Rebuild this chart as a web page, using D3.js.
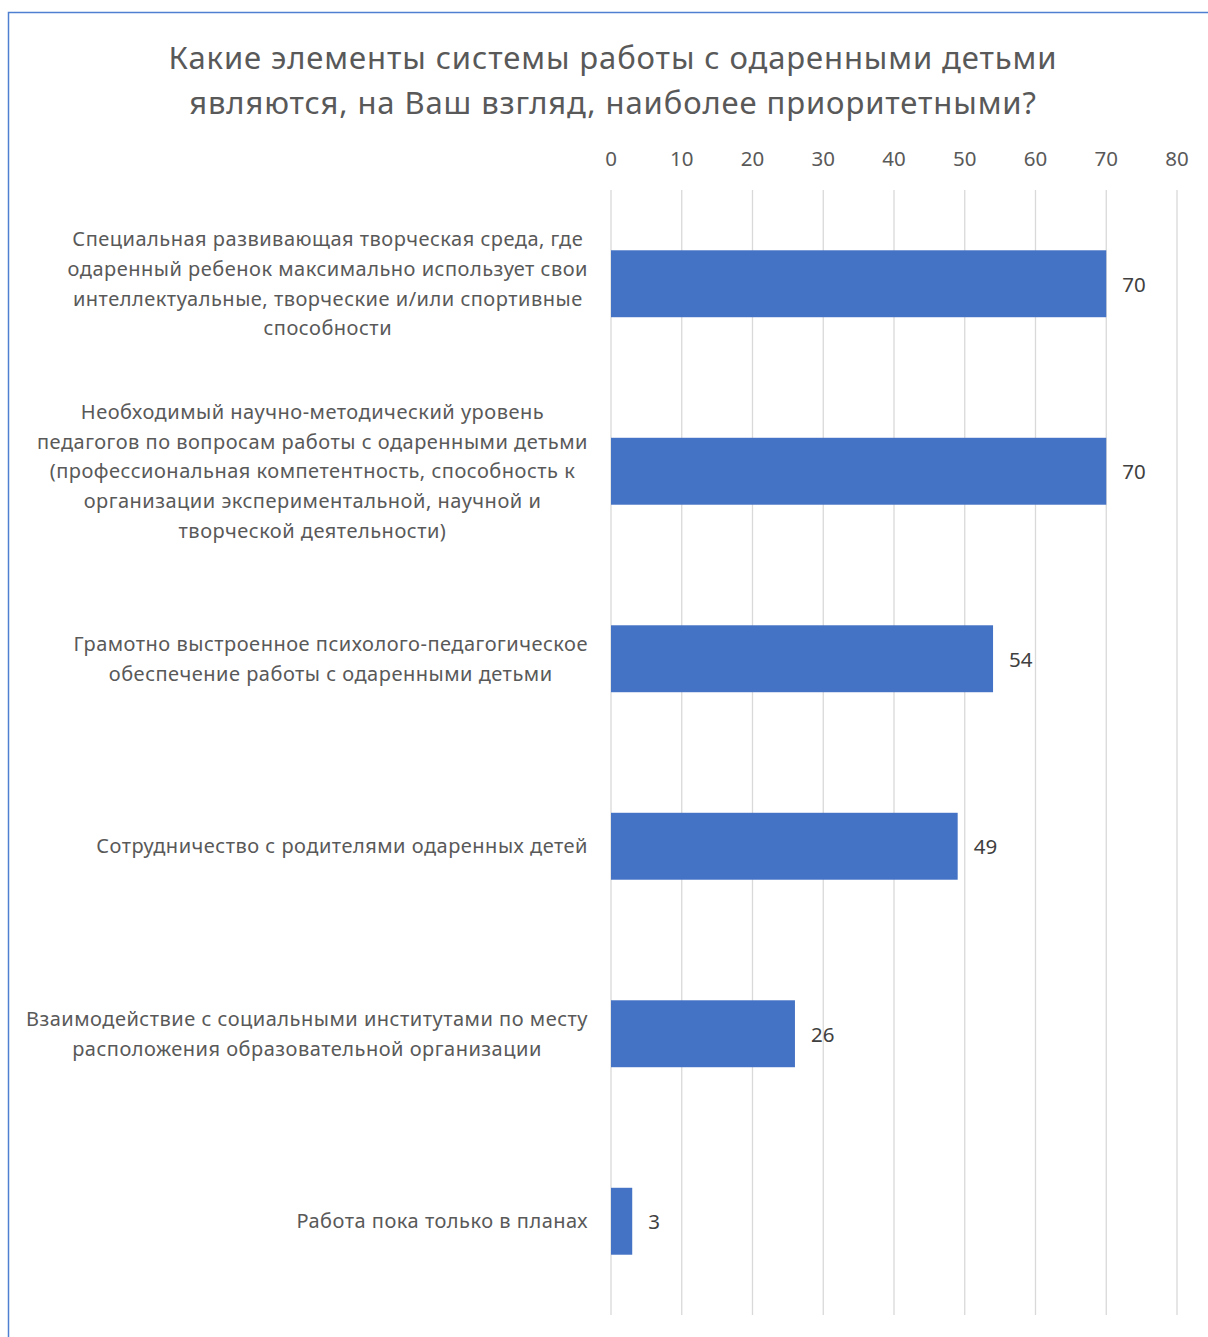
<!DOCTYPE html>
<html>
<head>
<meta charset="utf-8">
<script src="https://cdn.jsdelivr.net/npm/d3@7"></script>
<style>
  body { margin: 0; background: #fff; }
  svg text { font-family: "Noto Sans", "Open Sans", sans-serif; }
</style>
</head>
<body>
<svg id="chart" width="1208" height="1337"></svg>
<script>
// chart data
var titleLines = ["Какие элементы системы работы с одаренными детьми",
                  "являются, на Ваш взгляд, наиболее приоритетными?"];

var categories = [
  ["Специальная развивающая творческая среда, где",
   "одаренный ребенок максимально использует свои",
   "интеллектуальные, творческие и/или спортивные",
   "способности"],
  ["Необходимый научно-методический уровень",
   "педагогов по вопросам работы с одаренными детьми",
   "(профессиональная компетентность, способность к",
   "организации экспериментальной, научной и",
   "творческой деятельности)"],
  ["Грамотно выстроенное психолого-педагогическое",
   "обеспечение работы с одаренными детьми"],
  ["Сотрудничество с родителями одаренных детей"],
  ["Взаимодействие с социальными институтами по месту",
   "расположения образовательной организации"],
  ["Работа пока только в планах"]
];
var values = [70, 70, 54, 49, 26, 3];
var ticks = [0, 10, 20, 30, 40, 50, 60, 70, 80];

var svg = d3.select("#chart");
var textColor = "#595959";

// frame, only left/top visible in the picture
svg.append("rect")
   .attr("x", 8.5).attr("y", 12.5)
   .attr("width", 1400).attr("height", 1400)
   .attr("fill", "none")
   .attr("stroke", "#4f7fd0")
   .attr("stroke-width", 1.5);

// title
svg.selectAll(".title")
   .data(titleLines)
   .enter()
   .append("text")
   .attr("class", "title")
   .attr("x", 613)
   .attr("y", function(d, i){ return 69 + i * 45; })
   .attr("text-anchor", "middle")
   .attr("font-size", 31)
   .attr("letter-spacing", 0.9)
   .attr("fill", textColor)
   .text(function(d){ return d; });

var x = d3.scaleLinear().domain([0, 80]).range([611, 1177]);

var idx = d3.range(categories.length);
var y = d3.scaleBand()
          .domain(idx)
          .range([190, 1315])
          .paddingInner(0.643)
          .paddingOuter(0.643 / 2);

// gridlines
svg.selectAll(".grid")
   .data(ticks)
   .enter()
   .append("line")
   .attr("x1", function(d){ return x(d); })
   .attr("x2", function(d){ return x(d); })
   .attr("y1", 190)
   .attr("y2", 1315)
   .attr("stroke", "#d9d9d9")
   .attr("stroke-width", 1.3);

// top axis labels
svg.selectAll(".tick")
   .data(ticks)
   .enter()
   .append("text")
   .attr("x", function(d){ return x(d); })
   .attr("y", 166)
   .attr("text-anchor", "middle")
   .attr("font-size", 20.5)
   .attr("fill", textColor)
   .text(function(d){ return d; });

// bars
svg.selectAll(".bar")
   .data(values)
   .enter()
   .append("rect")
   .attr("x", x(0))
   .attr("y", function(d, i){ return y(i); })
   .attr("width", function(d){ return x(d) - x(0); })
   .attr("height", y.bandwidth())
   .attr("fill", "#4472c4");

// value labels
svg.selectAll(".val")
   .data(values)
   .enter()
   .append("text")
   .attr("x", function(d){ return x(d) + 16; })
   .attr("y", function(d, i){ return y(i) + y.bandwidth() / 2 + 8; })
   .attr("font-size", 20.5)
   .attr("fill", "#404040")
   .text(function(d){ return d; });

// category labels: lines centred inside a block whose right edge sits at 588
var lineH = 29.7;
categories.forEach(function(lines, i) {
  var g = svg.append("g");
  var cy = y(i) + y.bandwidth() / 2;
  var t = g.selectAll("text")
     .data(lines)
     .enter()
     .append("text")
     .attr("y", function(d, j){ return cy + (j - (lines.length - 1) / 2) * lineH + 7; })
     .attr("text-anchor", "middle")
     .attr("font-size", 20)
     .attr("letter-spacing", 0.5)
     .attr("fill", textColor)
     .text(function(d){ return d; });
  var maxW = d3.max(t.nodes(), function(n){ return n.getComputedTextLength(); });
  t.attr("x", 588 - maxW / 2);
});
</script>
</body>
</html>
